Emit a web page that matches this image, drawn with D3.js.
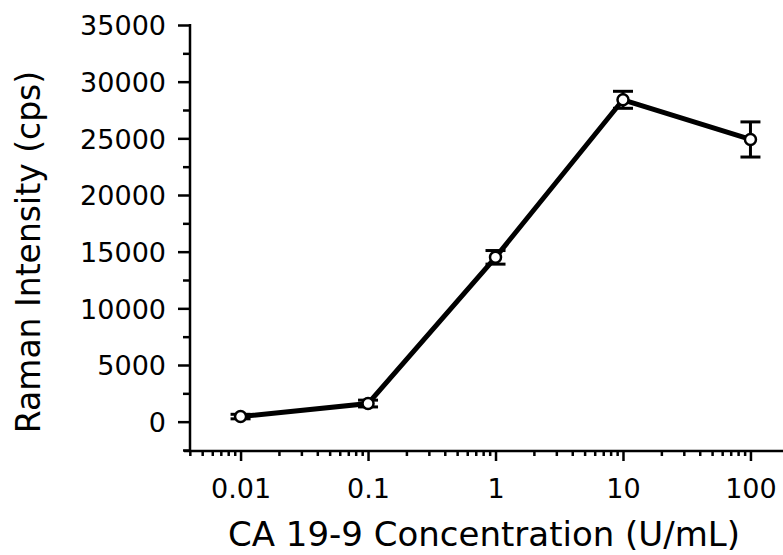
<!DOCTYPE html>
<html>
<head>
<meta charset="UTF-8">
<script src="https://d3js.org/d3.v7.min.js"></script>
<style>
  body { margin: 0; background: #fff; }
  text { font-family: "DejaVu Sans", Verdana, sans-serif; fill: #000; }
</style>
</head>
<body>
<script>
// data
const concentrations = [0.01, 0.1, 1, 10, 100];
const intensities = [450, 1600, 14500, 28400, 24900];
const errors = [200, 300, 600, 750, 1550];
const yTickValues = [0, 5000, 10000, 15000, 20000, 25000, 30000, 35000];
const xTickLabels = ["0.01", "0.1", "1", "10", "100"];

const width = 783, height = 555;
const svg = d3.select("body").append("svg")
  .attr("width", width)
  .attr("height", height);

// scales
const x = d3.scaleLog().domain([0.0036, 180]).range([184, 783]);
const y = d3.scaleLinear().domain([-2500, 35000]).range([450, 25]);
const x0 = 190;   // where the y axis sits

// y axis: major + minor ticks
const yMinor = d3.range(-2500, 35001, 2500).filter(v => v % 5000 !== 0);
svg.append("g")
  .attr("transform", "translate(" + x0 + ",0)")
  .call(d3.axisLeft(y).tickValues(yMinor).tickSize(7).tickFormat(""))
  .call(g => g.select(".domain").remove())
  .call(g => g.selectAll("line").attr("stroke", "#000").attr("stroke-width", 2.5));

svg.append("g")
  .attr("transform", "translate(" + x0 + ",0)")
  .call(d3.axisLeft(y).tickValues(yTickValues).tickSize(12).tickPadding(12).tickFormat(d3.format("d")))
  .call(g => g.select(".domain").remove())
  .call(g => g.selectAll("line").attr("stroke", "#000").attr("stroke-width", 2.5))
  .call(g => g.selectAll("text").style("font-size", "27px").attr("dy", "0.36em"));

svg.append("line")
  .attr("x1", x0).attr("x2", x0)
  .attr("y1", y(35000) - 1).attr("y2", y(-2500) + 2)
  .attr("stroke", "#000").attr("stroke-width", 2.5);

// x axis: log, minor ticks from ticks(), labels on decades
const xBase = y(-2500) + 1;
const minorX = x.ticks().filter(v => !concentrations.includes(+v.toPrecision(6)));
svg.append("g")
  .attr("transform", "translate(0," + xBase + ")")
  .call(d3.axisBottom(x).tickValues(minorX).tickSize(5).tickFormat(""))
  .call(g => g.select(".domain").remove())
  .call(g => g.selectAll("line").attr("stroke", "#000").attr("stroke-width", 2.5));

svg.append("g")
  .attr("transform", "translate(0," + xBase + ")")
  .call(d3.axisBottom(x).tickValues(concentrations).tickSize(10).tickPadding(18)
    .tickFormat((d, i) => xTickLabels[i]))
  .call(g => g.select(".domain").remove())
  .call(g => g.selectAll("line").attr("stroke", "#000").attr("stroke-width", 2.5))
  .call(g => g.selectAll("text").style("font-size", "27px"));

svg.append("line")
  .attr("x1", 184).attr("x2", 783)
  .attr("y1", xBase).attr("y2", xBase)
  .attr("stroke", "#000").attr("stroke-width", 2.5);

// axis titles
svg.append("text")
  .attr("x", 484).attr("y", 546)
  .attr("text-anchor", "middle")
  .style("font-size", "34px")
  .text("CA 19-9 Concentration (U/mL)");

svg.append("text")
  .attr("transform", "translate(40,252) rotate(-90)")
  .attr("text-anchor", "middle")
  .style("font-size", "33px")
  .text("Raman Intensity (cps)");

// error bars
const eb = svg.append("g").attr("stroke", "#000").attr("stroke-width", 3);
concentrations.forEach((c, i) => {
  const cx = x(c), top = y(intensities[i] + errors[i]), bot = y(intensities[i] - errors[i]);
  eb.append("line").attr("x1", cx).attr("x2", cx).attr("y1", top).attr("y2", bot);
  eb.append("line").attr("x1", cx - 10).attr("x2", cx + 10).attr("y1", top).attr("y2", top);
  eb.append("line").attr("x1", cx - 10).attr("x2", cx + 10).attr("y1", bot).attr("y2", bot);
});

// line
svg.append("path")
  .datum(concentrations.map((c, i) => [c, intensities[i]]))
  .attr("fill", "none")
  .attr("stroke", "#000")
  .attr("stroke-width", 5)
  .attr("d", d3.line().x(d => x(d[0])).y(d => y(d[1])));

// open markers
svg.selectAll("circle.pt")
  .data(concentrations)
  .enter().append("circle")
  .attr("class", "pt")
  .attr("cx", d => x(d))
  .attr("cy", (d, i) => y(intensities[i]))
  .attr("r", 5.5)
  .attr("fill", "#fff")
  .attr("stroke", "#000")
  .attr("stroke-width", 2.5);
</script>
</body>
</html>
